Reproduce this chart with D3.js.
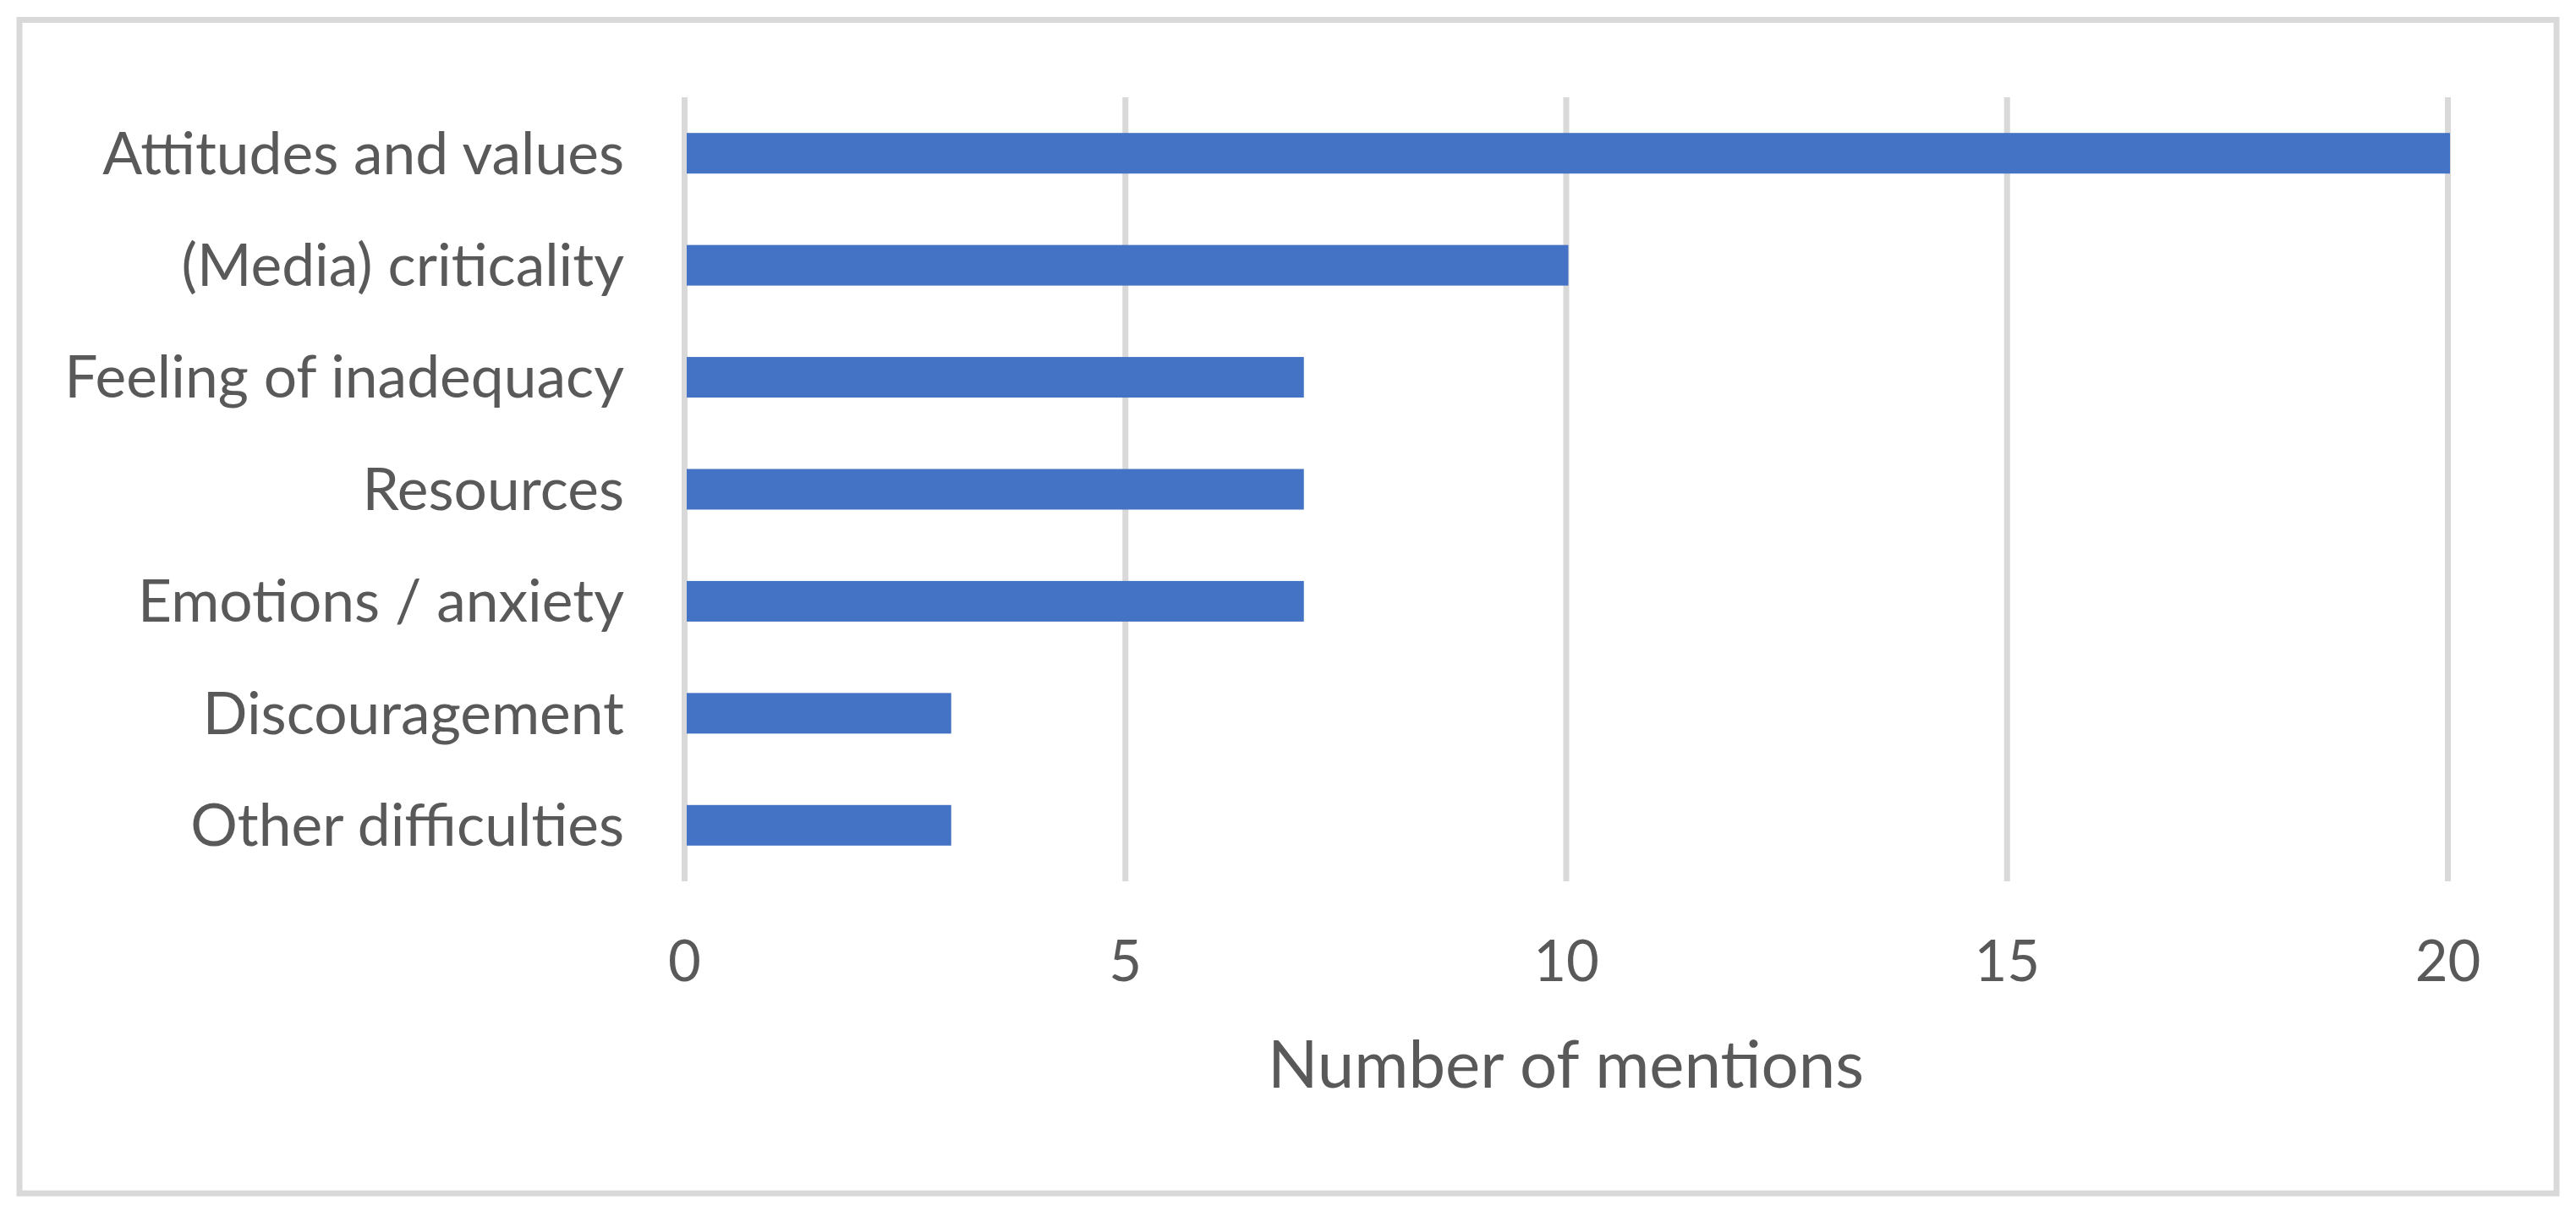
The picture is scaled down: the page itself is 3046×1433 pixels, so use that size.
<!DOCTYPE html>
<html>
<head>
<meta charset="utf-8">
<script src="https://cdn.jsdelivr.net/npm/d3@7"></script>
<style>
  html, body { margin: 0; padding: 0; background: #ffffff; }
  svg { display: block; }
</style>
</head>
<body>
<svg id="chart" width="3046" height="1433"></svg>
<script>
// ---- data ----
const categories = [
  "Attitudes and values",
  "(Media) criticality",
  "Feeling of inadequacy",
  "Resources",
  "Emotions / anxiety",
  "Discouragement",
  "Other difficulties"
];
const mentions = [20, 10, 7, 7, 7, 3, 3];
const tickValues = [0, 5, 10, 15, 20];
const axisTitle = "Number of mentions";

// ---- layout ----
const W = 3046, H = 1433;
const plot = { left: 809, right: 2894, top: 115, bottom: 1042 };
const font = "Lato, 'Open Sans', sans-serif";
const textColor = "#595959";
const gridColor = "#d9d9d9";
const barColor = "#4472C4";

const svg = d3.select("#chart");
svg.append("rect").attr("x", 0).attr("y", 0).attr("width", W).attr("height", H).attr("fill", "#fff");

// outer border
svg.append("rect")
  .attr("x", 23).attr("y", 23.5)
  .attr("width", 3000).attr("height", 1387.5)
  .attr("fill", "none")
  .attr("stroke", gridColor)
  .attr("stroke-width", 7);

const x = d3.scaleLinear().domain([0, 20]).range([plot.left, plot.right]);
const p = 0.6375;
const y = d3.scaleBand().domain(categories).range([plot.top, plot.bottom])
  .paddingInner(p).paddingOuter(p / 2);

// gridlines
const grid = svg.append("g")
  .attr("transform", `translate(0,${plot.bottom})`)
  .call(d3.axisBottom(x).tickValues(tickValues).tickSize(-(plot.bottom - plot.top)).tickFormat(""));
grid.select(".domain").remove();
grid.selectAll(".tick line").attr("stroke", gridColor).attr("stroke-width", 7);

// bars
svg.append("g").selectAll("rect")
  .data(categories)
  .join("rect")
  .attr("x", x(0) + 3)
  .attr("y", d => y(d))
  .attr("width", (d, i) => x(mentions[i]) - x(0))
  .attr("height", y.bandwidth())
  .attr("fill", barColor);

// x tick labels
const xAxis = svg.append("g")
  .attr("transform", `translate(0,${1160})`)
  .call(d3.axisBottom(x).tickValues(tickValues).tickSize(0).tickPadding(0).tickFormat(d3.format("d")));
xAxis.select(".domain").remove();
xAxis.selectAll("text")
  .attr("y", 0).attr("dy", 0)
  .attr("font-family", font)
  .attr("font-size", 67)
  .attr("fill", textColor);

// category labels
const yAxis = svg.append("g")
  .attr("transform", `translate(${738},0)`)
  .call(d3.axisLeft(y).tickSize(0).tickPadding(0));
yAxis.select(".domain").remove();
yAxis.selectAll("text")
  .attr("x", 0)
  .attr("dy", "0.35em")
  .attr("font-family", font)
  .attr("font-size", 69.5)
  .attr("fill", textColor);

// axis title
svg.append("text")
  .attr("x", (plot.left + plot.right) / 2)
  .attr("y", 1286)
  .attr("text-anchor", "middle")
  .attr("font-family", font)
  .attr("font-size", 78)
  .attr("fill", textColor)
  .text(axisTitle);
</script>
</body>
</html>
